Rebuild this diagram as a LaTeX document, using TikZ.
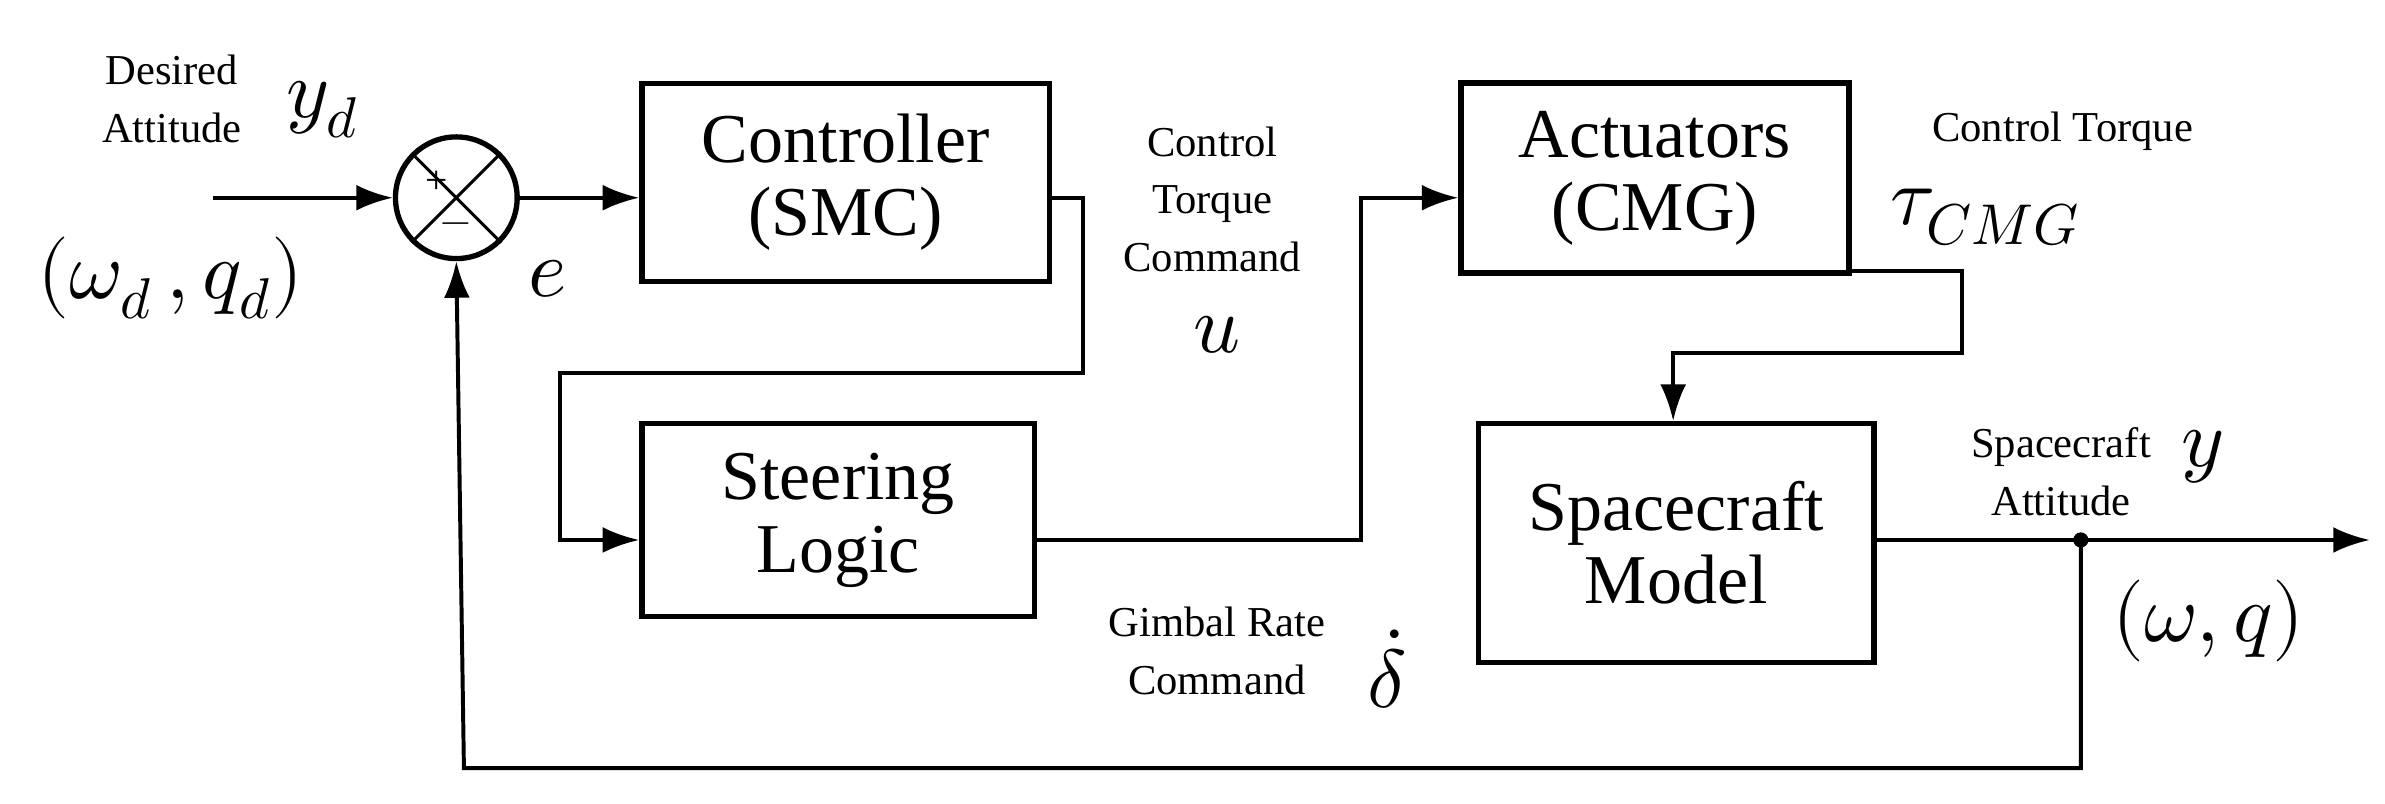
\documentclass[tikz,border=0pt]{standalone}
\usepackage{unicode-math}
\setmainfont{Liberation Serif}
\setmathfont{Latin Modern Math}
\usetikzlibrary{arrows.meta}
\begin{document}
\begin{tikzpicture}[x=1pt,y=-1pt,
  blk/.style={draw,line width=3.5pt,align=center,font=\fontsize{46}{48}\selectfont},
  wire/.style={line width=2.6pt},
  arr/.style={wire,-{Latex[length=24pt,width=17pt]}},
  lab/.style={font=\fontsize{28}{38}\selectfont,align=center},
  big/.style={font=\fontsize{54}{54}\selectfont}]
\useasboundingbox (0,0) rectangle (1568,528);
\node[blk,minimum width=268pt,minimum height=130pt] (ctrl) at (556,120) {Controller\\(SMC)};
\node[blk,minimum width=258pt,minimum height=127pt] (steer) at (551,342) {Steering\\Logic};
\node[blk,minimum width=255pt,minimum height=125pt] (act) at (1088,117) {Actuators\\(CMG)};
\node[blk,minimum width=260pt,minimum height=157pt] (sc) at (1102,357) {Spacecraft\\Model};
\node[circle,draw,line width=3.5pt,minimum size=80pt,inner sep=0] (sum) at (300,130) {};
\draw[line width=2pt] (sum.north west)--(sum.south east) (sum.north east)--(sum.south west);
\node[font=\fontsize{26}{26}\selectfont] (plus) at (287,120) {+};
\node[font=\fontsize{26}{26}\selectfont] (minus) at (300,150) {$-$};
\coordinate (in) at (140,130);
\draw[arr] (in) -- (sum.west);
\draw[arr] (sum.east) -- (ctrl.west |- sum.east);
\coordinate (c1) at (712,130); \coordinate (c2) at (712,245); \coordinate (c3) at (368,245); \coordinate (c4) at (368,355);
\draw[arr] (ctrl.east |- c1) -- (c1) -- (c2) -- (c3) -- (c4) -- (steer.west |- c4);
\coordinate (s1) at (895,355); \coordinate (s2) at (895,130);
\draw[arr] (steer.east |- s1) -- (s1) -- (s2) -- (act.west |- s2);
\coordinate (a1) at (1290,178); \coordinate (a2) at (1290,232); \coordinate (a3) at (1100,232);
\draw[arr] (act.east |- a1) -- (a1) -- (a2) -- (a3) -- (a3 |- sc.north);
\coordinate (o1) at (1368,355); \coordinate (out) at (1558,355);
\draw[arr] (sc.east |- o1) -- (out);
\fill (o1) circle (5pt);
\coordinate (f1) at (1368,505); \coordinate (f2) at (305,505);
\draw[arr] (o1) -- (f1) -- (f2) -- (sum.south);
\node[lab] (t1) at (113,65) {Desired\\Attitude};
\node[big] (yd) at (212,72) {$y_d$};
\node[big] (wq) at (112,183) {$(\omega_d\,,q_d)$};
\node[big] (e) at (360,183) {$e$};
\node[lab] (t2) at (797,131) {Control\\Torque\\Command};
\node[big] (u) at (800,220) {$u$};
\node[lab] (t3) at (1356,86) {Control Torque};
\node[big] (tau) at (1305,143) {$\tau_{CMG}$};
\node[lab] (t4) at (1355,310) {Spacecraft\\Attitude};
\node[big] (y) at (1448,300) {$y$};
\node[big] (wq2) at (1452,408) {$(\omega,q)$};
\node[lab] (t5) at (800,428) {Gimbal Rate\\Command};
\node[big] (dd) at (912,440) {$\dot\delta$};
\end{tikzpicture}
\end{document}
